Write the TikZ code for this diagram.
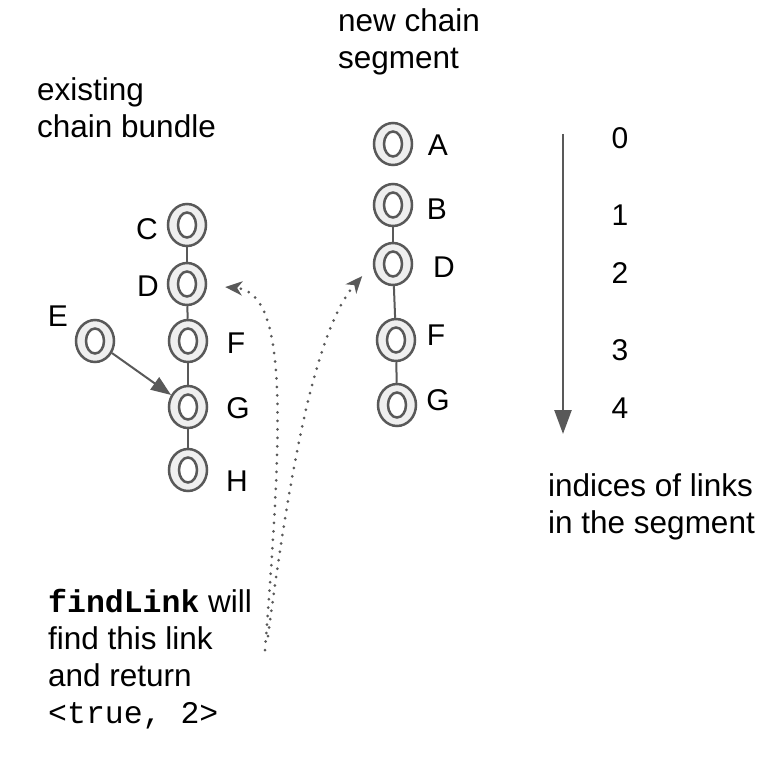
\documentclass[tikz,border=0pt]{standalone}
\usepackage{fontspec}
\setmainfont{Liberation Sans}
\setmonofont{Liberation Mono}
\usetikzlibrary{arrows.meta,shapes.geometric}
\definecolor{linkgray}{HTML}{595959}
\definecolor{linkfill}{HTML}{EFEFEF}
\tikzset{
  link/.style={ellipse, draw=linkgray, fill=linkfill, line width=2.5pt,
    minimum width=38pt, minimum height=42pt, inner sep=0pt,
    path picture={\draw[linkgray, line width=2.5pt, fill=white]
      (path picture bounding box.center) ellipse [x radius=9pt, y radius=12.5pt];}},
  lbl/.style={anchor=base, inner sep=0pt, font=\fontsize{30}{36}\selectfont},
  txt/.style={anchor=base west, align=left, inner sep=0pt, font=\fontsize{31.5}{37}\selectfont},
  chain/.style={draw=linkgray, line width=2pt},
  dots/.style={linkgray, line width=3pt, line cap=round, dash pattern=on 0pt off 8.5pt,
    -{Stealth[length=17pt,width=14pt,inset=5pt]}},
}
\begin{document}
\begin{tikzpicture}[x=1pt, y=-1pt]
  \useasboundingbox (0,0) rectangle (772,760);
  % existing chain bundle
  \node[link] (cL) at (187,225) {};
  \node[link] (dL) at (187,284) {};
  \node[link] (fL) at (188,341) {};
  \node[link] (gL) at (188,407) {};
  \node[link] (hL) at (188,470) {};
  \node[link] (eL) at (95,341) {};
  \node[lbl] (tcL) at (147,239) {C};
  \node[lbl] (tdL) at (148,296) {D};
  \node[lbl] (teL) at (58,326) {E};
  \node[lbl] (tfL) at (236,353) {F};
  \node[lbl] (tgL) at (238,418) {G};
  \node[lbl] (thL) at (237,491) {H};
  \draw[chain] (cL) -- (dL);
  \draw[chain] (dL) -- (fL);
  \draw[chain] (fL) -- (gL);
  \draw[chain] (gL) -- (hL);
  \draw[chain, -{Triangle[length=20pt,width=15pt]}] (eL) -- (gL);
  % new chain segment
  \node[link] (aR) at (393,144) {};
  \node[link] (bR) at (393,205) {};
  \node[link] (dR) at (393,264) {};
  \node[link] (fR) at (396,340) {};
  \node[link] (gR) at (397,405) {};
  \node[lbl] (taR) at (438,155) {A};
  \node[lbl] (tbR) at (437,219) {B};
  \node[lbl] (tdR) at (444,277) {D};
  \node[lbl] (tfR) at (436,345) {F};
  \node[lbl] (tgR) at (438,410) {G};
  \draw[chain] (bR) -- (dR);
  \draw[chain] (dR) -- (fR);
  \draw[chain] (fR) -- (gR);
  % indices
  \coordinate (iTop) at (563,134);
  \coordinate (iBot) at (563,434);
  \draw[linkgray, line width=2.5pt, -{Triangle[length=24pt,width=17pt]}] (iTop) -- (iBot);
  \node[lbl] (n0) at (620,148) {0};
  \node[lbl] (n1) at (620,225) {1};
  \node[lbl] (n2) at (620,283) {2};
  \node[lbl] (n3) at (620,360) {3};
  \node[lbl] (n4) at (620,418) {4};
  % texts (base = last line)
  \node[txt] (segTxt) at (338,69) {new chain\\segment};
  \node[txt] (bunTxt) at (37,137) {existing\\chain bundle};
  \node[txt] (idxTxt) at (548,533) {indices of links\\in the segment};
  \node[txt] (findTxt) at (48,723) {\textbf{\ttfamily findLink} will\\find this link\\and return\\\texttt{<true, 2>}};
  % dotted arrows
  \coordinate (s1) at (265,650);
  \coordinate (s2) at (268,636);
  \draw[dots, shorten >=18pt] (s1) .. controls (283,420) and (288,292) .. (dL);
  \draw[dots, shorten >=16pt] (s2) .. controls (290,470) and (315,330) .. (dR.west);
\end{tikzpicture}
\end{document}
